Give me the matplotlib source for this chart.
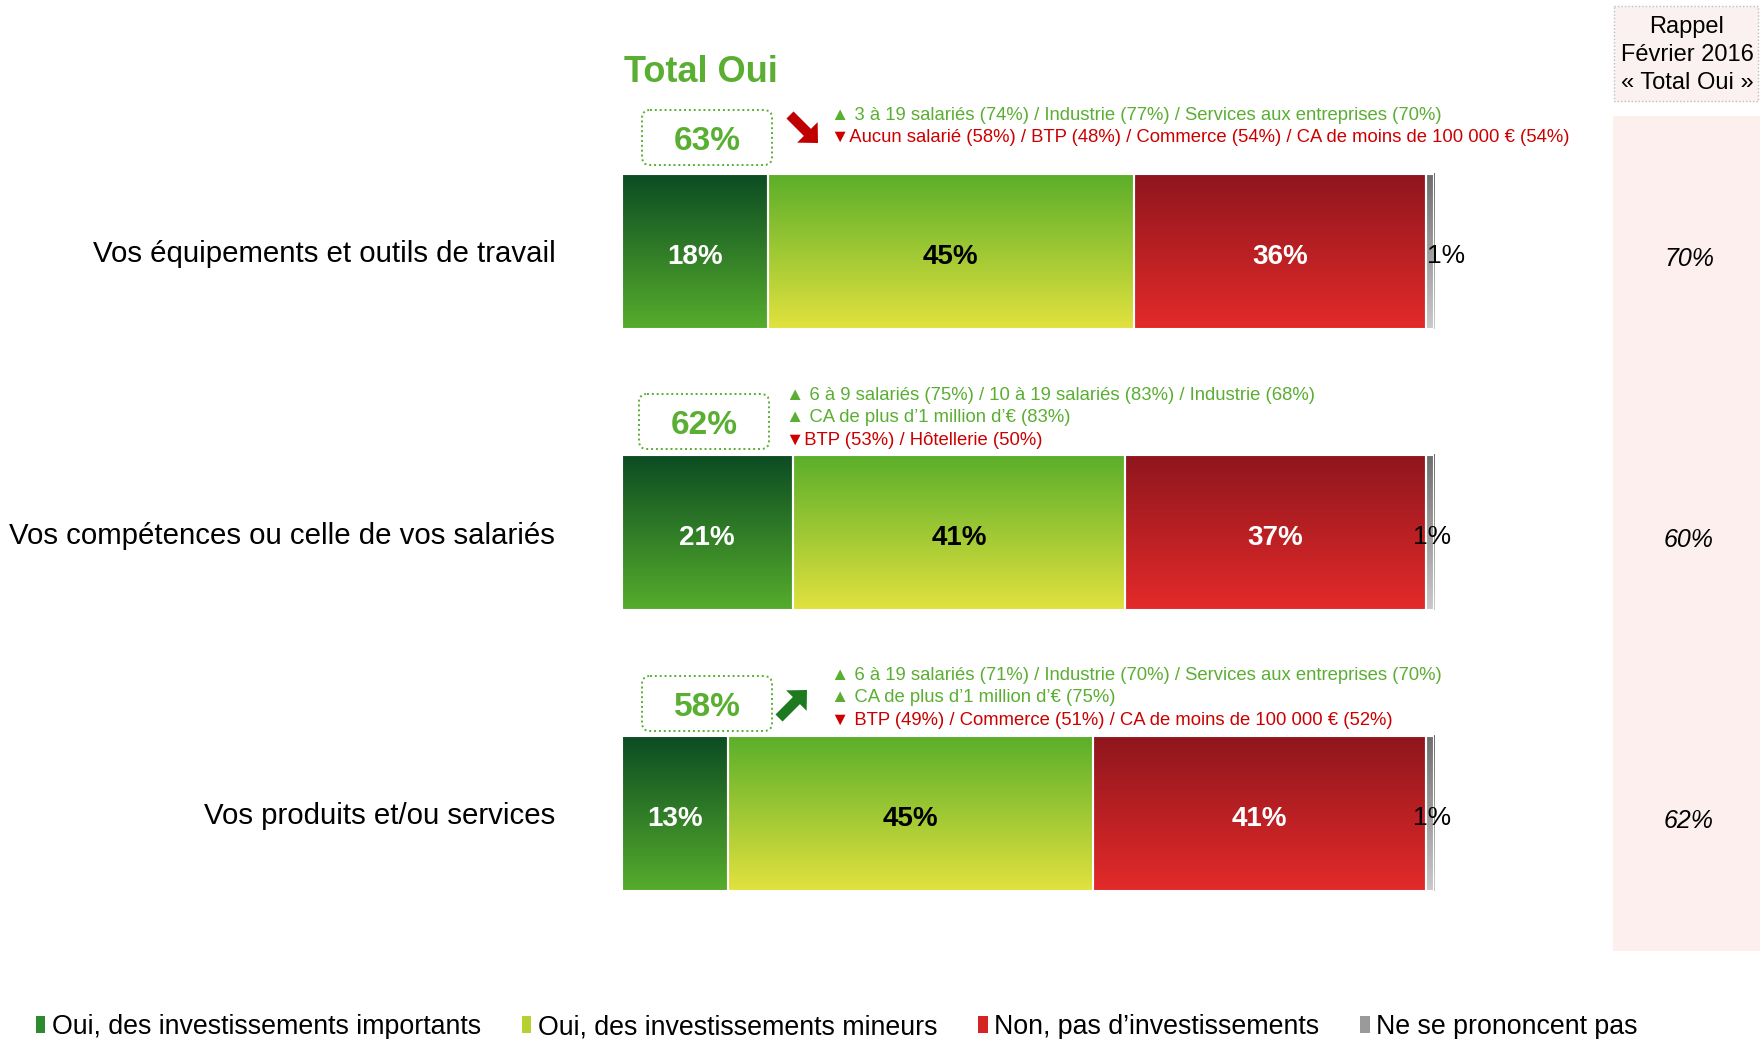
import numpy as np
import matplotlib
matplotlib.use("Agg")
import matplotlib.pyplot as plt
from matplotlib.colors import LinearSegmentedColormap
from matplotlib.patches import Patch, FancyBboxPatch, FancyArrow, Rectangle
from matplotlib.transforms import blended_transform_factory

plt.rcParams['font.family'] = ['Liberation Sans', 'DejaVu Sans']

# data
categories = ["Vos équipements et outils de travail",
              "Vos compétences ou celle de vos salariés",
              "Vos produits et/ou services"]
series = ["Oui, des investissements importants",
          "Oui, des investissements mineurs",
          "Non, pas d\u2019investissements",
          "Ne se prononcent pas"]
oui_importants = [18, 21, 13]
oui_mineurs = [45, 41, 45]
non = [36, 37, 41]
nsp = [1, 1, 1]
total_oui = ["63%", "62%", "58%"]
rappel_2016 = ["70%", "60%", "62%"]
notes = [
    [("\u25b2 3 à 19 salariés (74%) / Industrie (77%) / Services aux entreprises (70%)", "up"),
     ("\u25bcAucun salarié (58%) / BTP (48%) / Commerce (54%) / CA de moins de 100 000 \u20ac (54%)", "down")],
    [("\u25b2 6 à 9 salariés (75%) / 10 à 19 salariés (83%) / Industrie (68%)", "up"),
     ("\u25b2 CA de plus d\u20191 million d\u2019\u20ac (83%)", "up"),
     ("\u25bcBTP (53%) / Hôtellerie (50%)", "down")],
    [("\u25b2 6 à 19 salariés (71%) / Industrie (70%) / Services aux entreprises (70%)", "up"),
     ("\u25b2 CA de plus d\u20191 million d\u2019\u20ac (75%)", "up"),
     ("\u25bc BTP (49%) / Commerce (51%) / CA de moins de 100 000 \u20ac (52%)", "down")],
]

GREEN_TXT = "#5aae32"
RED_TXT = "#cc0000"
gradients = [("#0b4b23", "#56ad2c"), ("#5aae2a", "#e2e23e"),
             ("#8e161d", "#e42a2a"), ("#6e6e6e", "#cacaca")]
label_colors = ["white", "black", "white", "black"]

W, H = 1760, 1039
fig = plt.figure(figsize=(W / 100, H / 100), dpi=100)

# background overlay in pixel coordinates
bg = fig.add_axes([0, 0, 1, 1], zorder=0)
bg.set_xlim(0, W)
bg.set_ylim(H, 0)
bg.axis('off')

bg.add_patch(Rectangle((1613, 116), 147, 835, facecolor="#fcefee", edgecolor="none"))
bg.add_patch(Rectangle((1614, 6), 144, 95, facecolor="#fcf1f1", edgecolor="#bdbdbd",
                       linestyle=(0, (1, 1.5)), lw=1))
bg.text(1687, 55, "Rappel\nFévrier 2016\n\u00ab Total Oui \u00bb", ha='center', va='center',
        fontsize=17, linespacing=1.35)
bg.text(624, 72, "Total Oui", color=GREEN_TXT, fontsize=26, fontweight='bold', va='center')

# bars
ax = fig.add_axes([622 / W, 1 - 954 / H, 812 / W, 843 / H], zorder=1)
ax.patch.set_alpha(0)
y = np.arange(len(categories))
bar_h = 0.555
values = [oui_importants, oui_mineurs, non, nsp]
left = np.zeros(len(categories))
grad = np.linspace(0, 1, 256).reshape(-1, 1)
for k, vals in enumerate(values):
    cmap = LinearSegmentedColormap.from_list("g%d" % k, gradients[k])
    bars = ax.barh(y, vals, left=left, height=bar_h, color='none',
                   edgecolor='white', lw=1.5, zorder=3)
    for i, b in enumerate(bars):
        x0, yc = b.get_x(), y[i]
        ax.imshow(grad, cmap=cmap, aspect='auto', origin='upper',
                  extent=(x0, x0 + b.get_width(), yc + bar_h / 2, yc - bar_h / 2),
                  zorder=2)
        if k < 3:
            ax.text(x0 + b.get_width() / 2, yc + 0.018, "%d%%" % vals[i], ha='center',
                    va='center', color=label_colors[k], fontsize=20, fontweight='bold',
                    zorder=4)
    left = left + np.array(vals)

nsp_shift = [2.0, 0.3, 0.3]
for i in range(len(categories)):
    ax.text(left[i] - nsp[i] / 2 + nsp_shift[i], y[i] + 0.015, "%d%%" % nsp[i],
            ha='center', va='center', fontsize=19, zorder=4)

ax.set_xlim(0, 100)
ax.set_ylim(2.5, -0.5)
ax.set_yticks(y, categories)
ax.set_xticks([])
ax.tick_params(axis='y', length=0, pad=48, labelsize=21.2)
for s in ax.spines.values():
    s.set_visible(False)

# rappel column
tr = blended_transform_factory(fig.transFigure, ax.transData)
for i, v in enumerate(rappel_2016):
    ax.text(1689 / W, y[i] + 0.025, v, transform=tr, ha='center', va='center',
            fontsize=18, style='italic')

# total oui boxes, notes and arrows (pixel positions)
box_pos = [(642, 110), (639, 394), (642, 676)]
note_x = [831, 786, 831]
note_y0 = [115.5, 395.5, 675.5]
for i in range(len(categories)):
    bx, by = box_pos[i]
    bg.add_patch(FancyBboxPatch((bx, by), 130, 55, boxstyle="round,pad=0,rounding_size=8",
                                facecolor='none', edgecolor=GREEN_TXT,
                                linestyle=(0, (1, 1.5)), lw=1.4))
    bg.text(bx + 65, by + 32, total_oui[i], ha='center', va='center', color=GREEN_TXT,
            fontsize=24, fontweight='bold')
    for j, (txt, kind) in enumerate(notes[i]):
        bg.text(note_x[i], note_y0[i] + j * 22.5, txt, ha='left', va='center',
                color=GREEN_TXT if kind == "up" else RED_TXT, fontsize=13.3)

bg.add_patch(FancyArrow(790, 115, 28, 28, width=10, head_width=29, head_length=15,
                        length_includes_head=True, color="#c00000", lw=0))
bg.add_patch(FancyArrow(779, 718, 28, -28, width=10, head_width=29, head_length=15,
                        length_includes_head=True, color="#1e7a1e", lw=0))

# legend
leg_colors = ["#2e8a2e", "#b6d232", "#d42424", "#9a9a9a"]
handles = [Patch(facecolor=c, edgecolor='none') for c in leg_colors]
fig.legend(handles, series, loc='center left', bbox_to_anchor=(36 / W, 12 / H), ncol=4,
           frameon=False, fontsize=19.3, handlelength=0.35, handleheight=0.6,
           handletextpad=0.25, columnspacing=1.52, borderpad=0, borderaxespad=0)

fig.savefig("out.png", dpi=100)
